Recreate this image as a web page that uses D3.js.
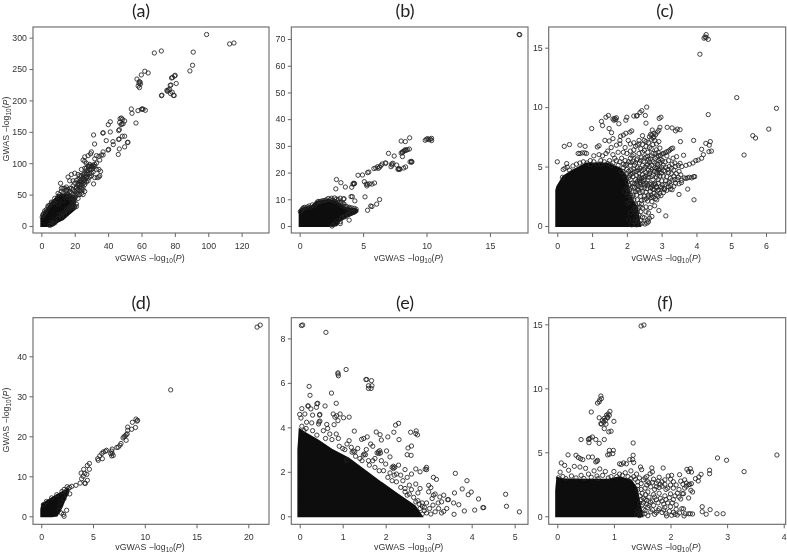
<!DOCTYPE html>
<html>
<head>
<meta charset="utf-8">
<script src="https://cdn.jsdelivr.net/npm/d3@7/dist/d3.min.js"></script>
<style>
  html, body { margin: 0; padding: 0; background: #fff; }
  svg { display: block; }
  .tick text, .lab { font-family: "Liberation Sans", Arial, sans-serif; fill: #333; }
  .ttl { font-family: Lato, "Open Sans", sans-serif; fill: #222; }
</style>
</head>
<body>
<div id="chart"></div>
<script>
// points, [vGWAS, GWAS]
var pointsA = [[99,305],[112.8,290],[115.4,291.5],[91,277],[90.6,256],[89,247],[67.7,275.6],[71.9,278.8],[57.3,234],[59.9,240.6],[62,246.5],[64,243.8],
  [58.7,230],[58.5,227.5],[59.2,229],[58,223],[58.8,220.5],[59.3,226],[79.8,239],[78.6,236.5],[80.2,240],[80.8,227],[77.6,224.6],[77.2,224],[78,235.8],
  [76,216.7],[75.2,216],[76.8,217.5],[75.6,214.5],[77.4,211],[72,207.6],[72.2,208.4],[79.2,208],[79.6,207.8],[78.4,213],
  [53.9,186.4],[54.3,179.5],[57.9,183.7],[60.5,186.4],[60,186],[61,186],[62.3,184.3],[56.7,164],
  [47.9,172],[47.2,171],[48.6,170],[41.3,166],[40.1,161.4],[41.3,149.8],[38.9,136],[31.3,145],[31.9,130.6],[36.9,148],[37,148.5],
  [48.3,162.5],[47.8,161.5],[49,163],[49.9,167.3],[46.9,165],[46.7,153.5],[46.3,152],[46.3,138],[46.6,138.5],[48.5,143],[49.9,143],[51.9,133.3],[51.6,133],[49.9,126],[46.1,114],[46.7,122.7],[40.3,122],[40,121],[42.9,134.4],[43.1,129.6],
  [31.3,67],[35.5,87],[34.5,90],[35,80],[33.5,77],[34.5,78],[32,77],[28,76],[27,77],[26,80],[26,70],[25,62],[26,55],[24,60],[25,50],[22,68],[22,82],[24,80],[25,82],[27,83],[20,84],[18,82],[16,78],[11.5,68],[17,72],[19,72],[21,73],[13,60],[15,62],
  [28,95],[30,94],[31,97],[33,100],[35,105],[36,113],[37,113],[33,112],[34.5,111],[37,118],[30,118],[29.5,115],[28,112],[26,110],[26,103],[25,105],[27,100],[29,98],[32,107],[32,95],[33,90],[28,85],[30,84],[26,92],[24,90],[23,72],[21,60],[23,62],[24,65],[20,55],[18,60],[17,55],[19,50],[20,40],[21,35],[20,31],[21,31],[18,29],[17,30],[15,25],[13,20],[14,17],[12,15],[11,18],[10,35],[8,37],[7,38],[9,42],[10,47],[11,50],[12,55],[13,52],[15,50],[16,45],[3,26],[2.5,22],[4,30],[5,33],[6,35],
  [22,44],[23,50],[24,52],[22,58],[19,64],[20,68],[15,56],[14,48],[18,40],[17,45],[13,40],[21,62],[22,64],[23,66],[24,70],[25,72],[26,74],[22,74],[23,80],[19,58],[20,50],[21,52],[18,52],[16,50],[17,48],[19,44],[20,46],[28,96],[29,95],[30,96],[31,95],[32,98],[27,78],[25,76],
  [.5,14],[1,17],[1.5,20],[6,6],[8,9],[10,12],[12,18],[14,22],[16,24],[18,32],[19,36],[20,30],[17,28],[15,27],[8,5],[6,2],[5,1],[7,4],
  [21,57],[22,66],[23,70],[24,74],[25,78],[26,84],[27,88],[27,92],[28,88],[29,90],[30,90],[31,92],[29,84],[31,86],[25,68],[26,66],[27,70],[28,72],[29,78],[30,80],[24,56],[25,58],[22,50],[23,56],[20,44],[21,48],[19,40],[18,46],[17,60],[16,58],[15,58],[14,60],[12,60],[10,52],[8,44],[6,38],[4,32],[2,24],[1,18]];

var pointsB = [[17.3,71.7],[17.35,71.6],[9.9,32.1],[10,32.5],[10.1,32.7],[10.4,32.8],[10.4,32],[10.3,32.5],[10.2,32.3],[8.67,33],[8.33,31.6],[8,31.8],
  [8,27.3],[8.1,27.7],[8.2,28],[8.3,28.2],[8.4,28.4],[8.5,28.6],[8.1,27.5],[8.3,28.5],[8.65,28.8],[8.1,26],[7.45,26.2],[7,27.2],
  [8.7,24],[8.8,24.2],[8.85,24],[8.8,23.9],[7.75,21.2],[7.85,21.4],[7.9,21.2],[7.8,21.4],[8.35,22.1],[8.2,21.7],
  [7.25,23.2],[7.2,22.2],[7.35,23.5],[7.3,22.8],[7.65,22.8],[6.75,23.6],[6.8,23.5],[6.5,23.2],[6.3,22],[6.15,22.2],[6,21.7],[5.85,21.5],[6.2,21.6],[6.4,22.6],
  [5.45,20.2],[5.35,20],[4.6,19],[4.95,19.1],[2.9,17.4],[3.25,16.2],[2.85,13.9],[3.6,14.6],[4.1,14.5],[4.3,15.8],[4.2,15.7],[4.25,16],[4.32,15.9],
  [5.1,16.6],[5.25,15.7],[5.3,15],[5.5,15.8],[5.7,15.7],[5.9,16.1],[5.35,15.6],[4.05,11],[4.15,11],[3.45,10.1],[3.5,10.2],[3.2,10.4],[5.15,10.9],[6.3,9.9],[6.07,8.2],[5.6,7.5],[5.7,7.3],[5.35,5.9],[4.35,9.4],[3.9,2.2],[3.2,.9],
  [.15,6],[.05,5.4],[.25,6.5],[.3,6.8],[.4,7],[.75,7.5],[1,7.9],[1.3,8.4],[1.4,9],[1.5,9.2],[1.7,9.3],[2,9.6],[2.25,10.3],[2.5,10.4],[2.75,10.5],[2.9,10.1],[3.05,9.9],[3.1,8.8],[3.4,8.5],[3.5,8.2],[3.6,7.2],[3.9,7],[4.1,6.8],[4.3,6.6],[4.45,6.3],[4.4,5.7],[4.15,5],[3.85,4.3],[3.55,3.4],[3.3,2.9],[3,2],[2.8,1.2],[2.65,.5],[2.55,0],[3.75,6.4],
  [.6,7.1],[.85,7],[1.15,7.6],[1.6,9.1],[1.85,9.5],[2.1,9.8],[2.4,9.9],[2.6,9.6],[2.8,9.2],[3,9.4],[3.25,8.8],[3.3,7.8],[3.45,7.4],[3.7,7.3],[3.95,6.6],[3.2,1.6],[3.35,3.1],[3.6,3.7],[3.75,4.2],[4,4.7],[4.3,5.3]];

var pointsC = [[4.28,16.1],[4.25,15.9],[4.28,15.85],[4.34,15.7],[4.22,15.8],[4.1,14.45],[5.16,10.8],[6.3,9.9],[6.08,8.15],[5.62,7.6],[5.7,7.4],[5.37,5.97],[4.34,9.37],
  [2.57,10],[2.43,9.7],[2.53,9.3],[2.55,8.65],[2.38,9.55],[2.3,9.3],[2.2,9.25],[2.28,9.25],[2,9.15],[1.97,8.9],[1.77,8.6],
  [1.6,9],[1.65,9.05],[1.7,9.1],[1.63,8.9],[1.68,8.95],[1.47,9.3],[1.4,9.15],[1.27,8.8],[1.3,8.45],[.99,8.2],[1.49,8.2],[1.56,7.85],[1.82,7.55],[1.97,7.8],[2.09,7.9],[2.14,8],[1.9,7.65],[1.6,7.35],[1.49,7.15],[1.37,7.2],[2.04,7.2],[1.8,7.2],
  [.2,6.7],[.35,6.85],[.65,6.8],[.8,6.7],[1.15,6.65],[1.2,6.75],[.6,6.1],[.65,6.1],[.72,6.15],[.79,6.15],[.84,6.1],[0,5.4],[.27,5.25],[.17,4.75],[.22,4.85],[.29,4.95],
  [2.86,5.8],[2.96,5.95],[3.05,6.1],[3.15,6.25],[3.24,6.4],[3.32,6.55],[2.65,7.5],[2.72,7.65],[2.78,7.8],[2.88,7.9],[2.92,8.05],[2.95,8.3],[2.93,9.05],[2.98,9.15],[3.16,8.3],[3.3,8.25],[3.4,8],[3.45,8.15],[3.53,8.1],[2.73,8.07],[2.7,7.3],[2.8,7.2],
  [3.54,7.1],[3.92,7.2],[4.15,6.45],[4.27,6.95],[4.37,6.8],[4.4,7.1],[4.36,6.25],[4.43,6.3],[4.2,6],[4.15,5.7],[4.05,5.55],[3.98,5.5],[3.9,5.3],[3.8,5.2],[3.7,5.1],[3.63,5.95],[3.43,5.83],[3.33,5.7],[3.53,5.27],
  [3.65,4.05],[3.75,4.05],[3.8,4.1],[3.87,4.05],[3.92,4.15],[3.95,4.15],[3.7,4],[3.57,3.65],[3.75,3.1],[3.5,2.65],[3.93,2.2],[3.12,.85],[2.92,1.3],[2.8,1.7],[2.86,2.2],[2.72,2.05],[2.55,1.6],[2.67,1.55],[2.5,2.5],[2.72,.8],[2.62,.35],[2.52,.17],[2.23,.35],[2.14,.1],[2.58,.25],
  [1.8,6.9],[1.9,6.2],[2,6.1],[2.1,6.3],[2.2,6.4],[2.3,6.8],[2.35,6.9],[2.45,6.85],[2.55,6.7],[2.6,6.2],[2.7,6.5],[2.85,6.4],[1.7,6.8],[1.55,6.6],[1.45,6.3],[1.4,6.1],[1.3,5.9],[1.2,6],[1.05,5.9],[1.6,6],[1.75,6.2],[1.85,5.7],[1.95,5.5],[2.05,5.4],[2.15,5.9],[2.25,5.3],[2.45,5.1],[2.5,5.7],[2.55,5.8],[2.6,5.2],[2.65,5],[2.7,5.9],[2.75,5.4],[2.8,4.9],[2.9,4.7],[2.95,4.8],[3,4.95],[3.05,5.1],[3.1,5.4],[3.2,5.5],[3.3,5.2],[3.4,5],[3.35,4.7],[3.5,4.6],[3.55,4.3],[3.45,3.9],[3.3,3.85],[3.4,3.6],[3.5,3.55],[3.2,3.3],[3.25,3.1],[3.15,3],[3.3,3.05],[3.05,2.8],[2.95,2.75],[2.85,2.6],[2.7,2.4],[2.6,2.1],[2.45,1.5],[2.4,1.2],[2.35,.9],[2.5,.7],[2.6,.5],[2.3,.4],[2.25,.6],[2.2,1.4],[2.25,1.8],[2.3,2.2],[2.4,2.5],[2.45,2.9],[2.5,3.2],[2.6,3.4],[2.7,3.5],[2.75,3.1],[2.85,3.3],[2.9,3.6],[3,3.8],[3.1,3.5],[3.05,4.2],[2.95,4.2],[2.85,4.1],[2.75,4.3],[2.65,4.4],[2.55,4.5],[2.45,4.3],[2.35,4.1],[2.25,3.9],[2.15,3.6],[2.1,3.2],[2.15,4.4],[2.05,4.6],[2.2,4.8],[2.3,4.9],[2.4,3.5],[2.5,3.9],[2.8,3.6],[2.75,3.9],
  [2.6,5.85],[2.62,5.6],[2.58,5.1],[2.85,4.85],[2.88,4.95],[2.92,4.75],[2.9,3.9],[2.82,3.5],[2.85,3.25],[.85,5.3],[.95,5.5],[1.05,5.4],[1.15,5.2],[1.25,5.5],[.55,5.2],[.45,5.05],[.35,4.7],[.15,4.1],[1.75,5.1],[1.6,5.3],[1.5,5.5],[1.9,4.9],[2,4.4],[2.1,3.9],[2.05,2.8],[2.15,2.4],[2.25,1.5],[2.1,1.1],[2.25,1.1],[2.05,.5],
  [1.83,4.55],[1.92,4.3],[1.97,4],[2.02,3.7],[2,3.3],[2.07,3.45],[1.94,2.9],[2.03,3.1],[2.1,2.6],[2.18,2.85],[2.22,3.25],[2.3,3.45],[2.33,3],[2.38,2.8],[2.28,2.6],[2.36,3.8],[2.42,3.2],[2.48,3.55],[2.55,2.85],[2.58,3.15],[2.62,2.6],[2.67,2.9],[2.72,3.3],[2.78,2.75],[2.53,4.15],[2.6,3.85],[2.42,4.65],[2.35,4.45],[2.28,4.25],[2.18,4.15],[2.12,4.7],[2.08,4.25],[2,4.75],[1.88,4.6],[1.95,5.1],[2.1,5.1],[2.18,5.45],[2.3,5.65],[2.4,5.5],[2.35,6.1],[2.45,6.2],[2.5,6.35],[2.2,6],[2.1,5.7],[1.65,5.7],[1.8,5.4],[1.7,5.5],[1.55,5.1],[1.45,5.25],[1.35,5.4],[1.25,5.2],[.75,5.4],[.65,5.3],[.95,5.15],
  [3.1,4.6],[3.15,4.15],[3.2,4.5],[3.25,4],[3.35,4.2],[3.12,3.8],[3.22,3.7],[3,3.2],[2.92,3.05],[3.08,3.15],[3.02,6.05],[3.1,6.15],[3.2,6.3],[3.28,6.5],[2.9,5.9],[2.92,5.5],[2.98,5.6],[3.15,5.9],[2.78,7.5],[2.83,7.7],[2.68,7.7],[2.76,7.4],[2.55,7.1],[2.45,7.6],[2.62,7],[2.1,6.9],[1.95,6.6],[2.75,6.1],[2.82,5.7],[2.68,5.65],[2.72,5.1],
  [2.02,1.9],[2.08,2],[2.12,2.3],[2.2,2.2],[2.18,2.6],[2.25,2.9],[2.3,3.1],[2.35,3.3],[2.28,3.6],[2.38,3.65],[2.44,3.75],[2.52,3.45],[2.56,3.6],[2.64,3.55],[2.68,3.2],[2.76,3.45],[2.8,3.05],[2.88,2.95],[2.96,3.3],[3.02,3.45],[3.08,3.05],[3.18,3.55],[3.26,3.4],[3.35,3.35],[3.38,3.9],[3.48,4.1],[3.58,3.85],[3.42,4.4],[3.28,4.4],[3.18,4.75],[3.12,4.95],[3.22,5],[3.28,4.85],[3.38,5.3],[3.48,5.1],[3.58,5],[2.05,4.05],[2.12,4.35],[2.2,4.55],[2.27,4.6],[2.33,4.7],[2.38,4.85],[2.48,4.75],[2.52,4.95],[2.62,4.7],[2.68,4.6],[2.72,4.75],[2.78,4.6],[2.86,4.5],[2.93,4.5],[3,4.45],[3.06,4.65],[2.88,4.3],[2.72,4.15],[2.62,4.1],[2.58,4.3],[2.48,4.1],[2.42,4],[2.36,3.95],[2.3,3.75],[2.22,3.55],[2.16,3.3],[2.08,3.05],[2.02,2.55],[2.42,2.15],[2.5,2.2],[2.56,2.3],[2.62,2.45],[2.7,2.6],[2.76,2.45],[2.82,2.3],[2.9,2.5],[2.98,2.55],[2.35,1.9],[2.32,1.5],[2.38,1.6],[2.42,1.85],[2.3,1.2],[2.33,.7],[2.4,.45],[2.45,.75],[2.55,1.2],[2.62,1.1],[2.45,.25],[2.65,.65],[2.38,.15],[2.28,.1],[1.9,5.2],[2,5.2],[2.12,5.35],[2.22,5.1],[2.28,5.55],[2.36,5.3],[2.42,5.75],[2.48,5.45],[2.65,5.4],[2.8,5.3],[2.88,5.2],[2.95,5.35],[3.02,5.5],[2.82,6.1],[2.9,6.2],[2.95,6.55],[2.65,6.6],[2.75,6.85],[2.85,6.9],[2.92,7.1],[2.5,7.2],[2.35,7.2],[2.2,7],[2.25,6.7],[2.4,6.5]];

var pointsD = [[21.15,47.8],[20.85,47.3],[12.5,31.6],[9.3,24],[9.15,24.3],[9.25,23.8],[8.8,23.5],[9.1,22.2],[8.73,21.75],[8.35,22.3],[8.35,21.5],
  [7.9,19.6],[8,19.9],[8.1,20.1],[8.2,20.4],[8.3,20.6],[8.2,19],[7.6,17.75],[7.7,18.2],[7.44,17.3],[7.3,17.2],[6.85,16.8],[6.8,16.3],[6.85,15.7],[6.8,15.1],[6.95,15.2],[6.7,15.7],
  [6.3,16.5],[6.2,16.25],[6,16.1],[5.85,15.7],[5.65,15.1],[5.45,14.4],[5.5,14],[5.9,14.4],[4.65,13.2],[4.45,12.7],[4.1,11.75],[4.65,11.75],[3.85,10.8],[4.2,10.7],[4.4,10.5],[4.05,10],[3.9,9.4],[4.45,9],[4.2,8.3],[3.75,8.3],[4.25,8.2],
  [3.35,7.75],[2.95,7.5],[2.75,7.2],[2.6,6.9],[2.45,6.5],[2.75,5.6],[2.45,1.5],[2.15,.5],[2.2,0],[1.95,.8],[2.4,5.5],[2.2,4.4],[1.9,3.6],[1.8,2.5],[1.7,1.5],[.5,3.7],[.2,2.9],[1,4.6],[1.5,5.4],[2,6.2],[2.2,6.7],[2.5,7.4]];

var pointsE = [[.04,8.58],[.07,8.6],[.61,8.27],[1.08,6.6],[.89,6.4],[.9,6.32],[.89,6.45],[1.56,6.15],[1.54,6.15],[1.67,6.1],[1.6,5.87],[1.68,5.87],[1.6,5.75],[1.66,5.75],
  [.22,5.84],[.24,5.44],[.74,5.54],[.85,5.08],[.59,4.96],[.42,5.08],[.4,5.06],[.2,4.96],[.19,4.96],[.39,4.9],[.05,4.84],[.26,4.83],[.47,4.58],[.46,4.55],[.78,4.6],[.94,4.6],[.86,4.52],[.82,4.46],[1.02,4.43],[1.15,4.46],[.89,4.3],[0,4.58],[.12,4.6],[.03,4.42],[.3,4.55],[.47,4.28],[.45,4.24],[.8,4.12],[.63,4.13],[.16,4.23],[.28,4.2],[.44,4.15],
  [1.27,3.83],[1.78,3.79],[1.87,3.67],[2.19,3.78],[2.23,4.1],[2.3,4.18],[1.9,3.43],[2.05,3.57],[2.31,3.45],[1.57,3.57],[1.44,3.46],[1.49,3.5],[2.58,3.78],[2.71,3.84],[2.7,3.72],[2.74,3.66],[2.6,3.16],[2.52,3.07],[2.5,2.77],[2.59,2.74],[2.02,2.94],[2.1,2.67],
  [1.8,2.85],[1.83,2.9],[1.86,2.95],[1.84,2.82],[1.88,2.85],[2.15,2.2],[2.18,2.25],[2.21,2.2],[2.18,2.15],[1.48,2.75],[1.5,2.8],[1.53,2.77],[1.25,2.93],[1.22,2.88],[1.28,2.9],[1.1,2.55],[1.08,2.5],
  [3.62,1.93],[3.89,1.6],[3.78,1.23],[3.92,.97],[3.99,1.09],[4.16,.78],[3.11,1.75],[3.18,1.66],[3,1.39],[3.05,1.29],[3.6,1.05],[3.58,.6],[3.7,.52],[4.79,.99],[4.81,.45],[5.11,.2],[4.28,.39],[4.26,.39],[4.07,.28],[3.83,.24],[3.59,.09],
  [2.95,2.1],[2.95,2.2],[2.92,2.12],[2.7,2.13],[2.8,2],[2.45,2.1],[2.6,1.9],[3.46,.75],[3.44,.75],[3.35,.95],[3.26,.87],[3.3,.65],[3.11,.95],[3.15,1],[3,1.1],[3.08,.8],[3.23,.35],[3.35,.22],[3.42,.35],[3.3,.15],[3.15,.2],[3.22,.6],[3.1,.5],[3.02,.35],
  [.15,3.95],[.05,4.05],[.1,3.85],[.3,3.85],[.4,3.65],[.55,3.85],[.65,3.95],[.7,3.7],[.6,3.5],[.85,3.7],[.75,3.45],[.9,3.5],[1,3.05],[.92,3.15],[1.1,3.25],[1.15,3.4],[1.2,3.1],[1.35,3.05],[1.4,2.6],[1.55,3],[1.65,3.25],[1.7,3.15],[1.75,2.6],[1.6,2.5],[1.9,2.5],[2,2.35],[1.95,2.05],[2.1,1.95],[2.25,1.9],[2.3,2.3],[2.35,1.85],[2.4,1.6],[2.5,1.75],[2.55,1.4],[2.7,1.45],[2.6,1.2],[2.45,1.25],[2.75,1.05],[2.8,1.25],[2.5,.95],[2.65,.85],[2.75,.7],[2.85,.6],[2.9,.4],[2.8,.35],[2.95,.15],[2.85,.1],
  [1.05,3],[1.3,2.7],[1.45,2.5],[1.62,2.3],[1.75,2.2],[1.85,2.05],[2.05,1.75],[2.15,1.6],[2.25,1.55],[2.35,1.3],[2.45,1.1],[2.55,1],[2.7,.65],[2.85,.45],[2.9,.25],[2.78,.55],[2.95,.6],[3.05,.1],[2.2,1.85],[1.7,2.5]];

var pointsF = [[1.48,14.87],[1.53,14.95],[.77,9.4],[.78,9.2],[.75,9.1],[.71,8.85],[.74,8.95],[.6,8.15],[.93,8.2],[.9,8],[.88,7.75],[.85,7.5],[.82,7.35],[.78,7.2],[.92,7.9],[.87,7.9],[.83,7.65],[.8,7.5],[.89,7.7],[.86,7.2],[1,7.42],[.74,7.7],[.77,7.25],[.83,6.85],[.91,6.6],[.95,6.65],[.83,6],[.42,6],[.55,6],[.58,6.1],[.62,6.2],[.56,6.05],[.68,6],[.74,5.7],[.56,5.75],
  [1.34,5.73],[.92,5.15],[.99,5.15],[.89,4.8],[.92,4.85],[.98,4.9],[1.34,4.77],[1.33,4.43],[1.28,4.43],[1.35,4.2],[.19,4.8],[.33,4.77],[.41,4.5],[.37,4.6],[.45,4.43],[.55,4.63],[.62,4.63],[.71,4.37],[.68,4.25],[.7,4.3],[.07,4.17],[.13,3.98],[1.1,4.1],[1.13,4.05],[1.17,4.17],[1.22,4.1],[1.47,3.85],[1.67,3.78],[1.87,3.78],[1.49,3.65],[1.68,3.46],[1.64,3.33],[1.96,3.15],[2.02,3.2],[2.16,3.25],[2.29,3.67],[2.35,3.72],[2.37,3.46],[2.32,3.5],[2.44,2.94],[2.49,2.76],[2.54,3.28],[2.5,3.07],[2.69,3.6],[2.69,3.33],[2.83,4.56],[2.99,4.38],[3.3,3.49],[3.88,4.79],
  [2.32,2.47],[2.37,2.55],[2.28,2.35],[2.34,2.5],[2.36,2.03],[2.39,1.9],[2.32,1.43],[2.21,1.77],[2.23,1.77],[2.56,.75],[2.7,.52],[2.56,.36],[2.63,.16],[2.82,.2],[2.93,.2],[2.2,.6],[2.23,.58],[2.16,.26],[2.26,.2],[2.32,.2],[2.35,.2],[2.39,.18],[1.93,.03],[2.02,.08],[2.08,.15],[2.24,.03],
  [.05,3.45],[.2,3.6],[.3,3.9],[.4,3.85],[.5,3.75],[.55,3.3],[.65,3.55],[.75,3.7],[.85,3.5],[.8,3.2],[.95,3.1],[1,3.5],[1.1,3.3],[1.2,3.4],[1.3,3.55],[1.4,3.3],[1.35,3.1],[1.45,3],[1.55,3],[1.6,2.7],[1.7,2.9],[1.75,2.6],[1.85,2.7],[1.9,2.5],[2,2.9],[2.05,2.7],[2.1,2.45],[2.15,2.1],[1.95,2.2],[1.8,2.25],[1.65,2.3],[1.55,2.2],[1.5,1.8],[1.6,1.9],[1.7,1.7],[1.8,1.8],[1.9,1.6],[2,1.75],[2.05,1.3],[1.95,1.05],[1.85,1.2],[1.75,1.3],[1.65,1.1],[1.55,1.3],[1.5,.9],[1.6,.7],[1.7,.85],[1.8,.6],[1.9,.7],[2,.75],[1.98,.4],[1.85,.3],[1.75,.3],[1.65,.35],[1.55,.2],[1.6,.05],[1.45,.05],[1.4,.15],[2.1,.9],[2.15,1.5],[2.25,2.2],[1.42,2.7],[1.38,2.9],
  [.02,3],[.1,3.1],[.15,2.95],[.25,3.15],[.33,3],[.42,3.2],[.47,2.95],[.6,3.05],[.7,3.15],[.72,2.95],[.9,3],[1.05,3.1],[1.15,3.2],[1.25,3.1],[1.3,2.95],[1.42,2.4],[1.48,2.1],[1.52,1.4],[1.56,1.7],[1.62,1.5],[1.58,.95],[1.68,.5],[1.72,2.1],[1.82,2.5],[1.92,2.1],[1.52,.55],[1.47,.35],[1.55,.45],[1.58,2.45],[1.48,2.55],
  [1.42,.5],[1.45,1],[1.48,1.3],[1.52,1.05],[1.58,1.25],[1.62,.85],[1.68,1.2],[1.72,1.5],[1.78,1.05],[1.82,1.4],[1.88,.95],[1.92,1.3],[1.98,1.45],[2.03,1.05],[2.08,1.6],[2.12,1.8],[2.18,1.35],[2.05,2.2],[2,2.45],[1.9,2.85],[1.8,3.05],[1.75,2.3],[1.62,2.6],[1.52,2.85],[1.58,3.1],[1.68,2.65],[1.72,.15],[1.78,.45],[1.88,.5],[1.92,.2],[1.5,.15],[1.42,2.1],[1.46,1.6],[2.1,.55],[2.05,.3],[2.12,.1],[1.85,2.35],[1.78,2.75],[2.18,2.75],[2.25,2.85],[2.28,2.6],[2.22,2.5]];

// overplotted solid cores: x, lower edge and upper edge of the black mass
var coreAx = [0,2.2,4.2,7.2,10,13,16,20], coreAlow = [0,0,0,1,7,11,18,27], coreAhigh = [12,22,30,40,48,50,50,44];
var coreBx = [0,.15,.4,.95,1.35,2.25,2.9,3.2,3.55,4.4,4.55], coreBlow = [0,0,0,0,0,0,.3,2.2,3.2,4.8,5.4], coreBhigh = [5.5,6.3,6.8,7.2,9,9.8,9.2,8,6.8,6.3,5.8];
var coreCx = [-.03,0,.17,.4,.84,1.42,1.8,1.98,2.09,2.28,2.38], coreClow = [0,0,0,0,0,0,0,0,0,0,0], coreChigh = [3,3.3,4.15,4.6,5.25,5.25,4.85,4.15,2.5,1.6,0];
var coreDx = [0,.1,.5,1,1.5,2,2.3,2.6], coreDlow = [0,0,0,0,.2,2.5,4.5,6], coreDhigh = [1.7,3,3.7,4.5,5.3,6,6.4,6.7];
var coreEx = [-.03,0,.12,.43,.74,1.13,1.52,1.9,2.3,2.68,2.84], coreElow = [0,0,0,0,0,0,0,0,0,0,0], coreEhigh = [3,3.9,3.75,3.4,3,2.6,2.05,1.5,.95,.45,0];
var coreFx = [-.02,0,.1,.5,.9,1.1,1.3,1.4,1.5], coreFlow = [0,0,0,0,0,0,0,0,0], coreFhigh = [2,3,2.9,2.85,2.85,3.05,2.8,2.2,0];

var xTicksA = [0,20,40,60,80,100,120], yTicksA = [0,50,100,150,200,250,300];
var xTicksB = [0,5,10,15], yTicksB = [0,10,20,30,40,50,60,70];
var xTicksC = [0,1,2,3,4,5,6], yTicksC = [0,5,10,15];
var xTicksD = [0,5,10,15,20], yTicksD = [0,10,20,30,40];
var xTicksE = [0,1,2,3,4,5], yTicksE = [0,2,4,6,8];
var xTicksF = [0,1,2,3,4], yTicksF = [0,5,10,15];

var names = ['(a)','(b)','(c)','(d)','(e)','(f)'];
var panels = [
  {pts: pointsA, cx: coreAx, c0: coreAlow, c1: coreAhigh, xt: xTicksA, yt: yTicksA, xd: [-5,136.4], yd: [-11.2,317], col: 0, row: 0},
  {pts: pointsB, cx: coreBx, c0: coreBlow, c1: coreBhigh, xt: xTicksB, yt: yTicksB, xd: [-.66,18], yd: [-2.62,74.5], col: 1, row: 0},
  {pts: pointsC, cx: coreCx, c0: coreClow, c1: coreChigh, xt: xTicksC, yt: yTicksC, xd: [-.247,6.567], yd: [-.59,16.74], col: 2, row: 0},
  {pts: pointsD, cx: coreDx, c0: coreDlow, c1: coreDhigh, xt: xTicksD, yt: yTicksD, xd: [-.8,22], yd: [-2,49.65], col: 0, row: 1},
  {pts: pointsE, cx: coreEx, c0: coreElow, c1: coreEhigh, xt: xTicksE, yt: yTicksE, xd: [-.195,5.31], yd: [-.36,8.93], col: 1, row: 1},
  {pts: pointsF, cx: coreFx, c0: coreFlow, c1: coreFhigh, xt: xTicksF, yt: yTicksF, xd: [-.152,4.035], yd: [-.625,15.52], col: 2, row: 1}
];

var width = 787, height = 554;
var lefts = [33,291.3,548.7], widths = [236,236.7,237];
var tops = [27,317.7], heights = [206,206.6];
var titleX = [141,405,665], titleY = [17,309];

var svg = d3.select('#chart').append('svg').attr('width', width).attr('height', height);
var defs = svg.append('defs');
defs.append('filter').attr('id', 'soft').append('feGaussianBlur').attr('stdDeviation', 0.35);

var root = svg.append('g').attr('filter', 'url(#soft)');

panels.forEach(function(p, i) {
  var w = widths[p.col], h = heights[p.row];
  var g = root.append('g').attr('transform', 'translate(' + lefts[p.col] + ',' + tops[p.row] + ')');
  var x = d3.scaleLinear().domain(p.xd).range([0, w]);
  var y = d3.scaleLinear().domain(p.yd).range([h, 0]);

  var area = d3.area()
    .x(function(d, j) { return x(p.cx[j]); })
    .y0(function(d, j) { return y(p.c0[j]); })
    .y1(function(d, j) { return y(p.c1[j]); });
  g.append('path').attr('d', area(p.cx)).attr('fill', '#0a0a0a').attr('stroke', '#0a0a0a').attr('stroke-width', 2);

  g.selectAll('circle').data(p.pts).enter().append('circle')
    .attr('cx', function(d) { return x(d[0]); })
    .attr('cy', function(d) { return y(d[1]); })
    .attr('r', 2.15)
    .attr('fill', 'none')
    .attr('stroke', '#222')
    .attr('stroke-width', 0.85);

  g.append('rect').attr('width', w).attr('height', h)
    .attr('fill', 'none').attr('stroke', '#666').attr('stroke-width', 1.1);

  var xAxis = d3.axisBottom(x).tickValues(p.xt).tickSize(4).tickPadding(5.5).tickSizeOuter(0).tickFormat(d3.format('d'));
  var yAxis = d3.axisLeft(y).tickValues(p.yt).tickSize(3.5).tickPadding(2.5).tickSizeOuter(0).tickFormat(d3.format('d'));
  var gx = g.append('g').attr('transform', 'translate(0,' + h + ')').call(xAxis);
  var gy = g.append('g').call(yAxis);
  [gx, gy].forEach(function(a) {
    a.select('.domain').remove();
    a.selectAll('line').attr('stroke', '#666');
    a.selectAll('text').attr('font-size', 8.8);
  });

  var xl = g.append('text').attr('class', 'lab').attr('text-anchor', 'middle')
    .attr('x', w / 2 - 1).attr('y', h + (p.row === 0 ? 28 : 26)).attr('font-size', 8.8);
  logLabel(xl, 'vGWAS');

  if (p.col === 0) {
    var yl = g.append('text').attr('class', 'lab').attr('text-anchor', 'middle')
      .attr('transform', 'translate(-24.5,' + (h / 2 - 1) + ') rotate(-90)').attr('font-size', 8.8);
    logLabel(yl, 'GWAS');
  }

  root.append('text').attr('class', 'ttl').attr('text-anchor', 'middle')
    .attr('x', titleX[p.col]).attr('y', titleY[p.row]).attr('font-size', 18).text(names[i]);
});

function logLabel(t, name) {
  t.append('tspan').text(name + '  \u2212log');
  t.append('tspan').attr('dy', 2).attr('font-size', 6.5).text('10');
  t.append('tspan').attr('dy', -2).text('(');
  t.append('tspan').attr('font-style', 'italic').text('P');
  t.append('tspan').text(')');
}
</script>
</body>
</html>
